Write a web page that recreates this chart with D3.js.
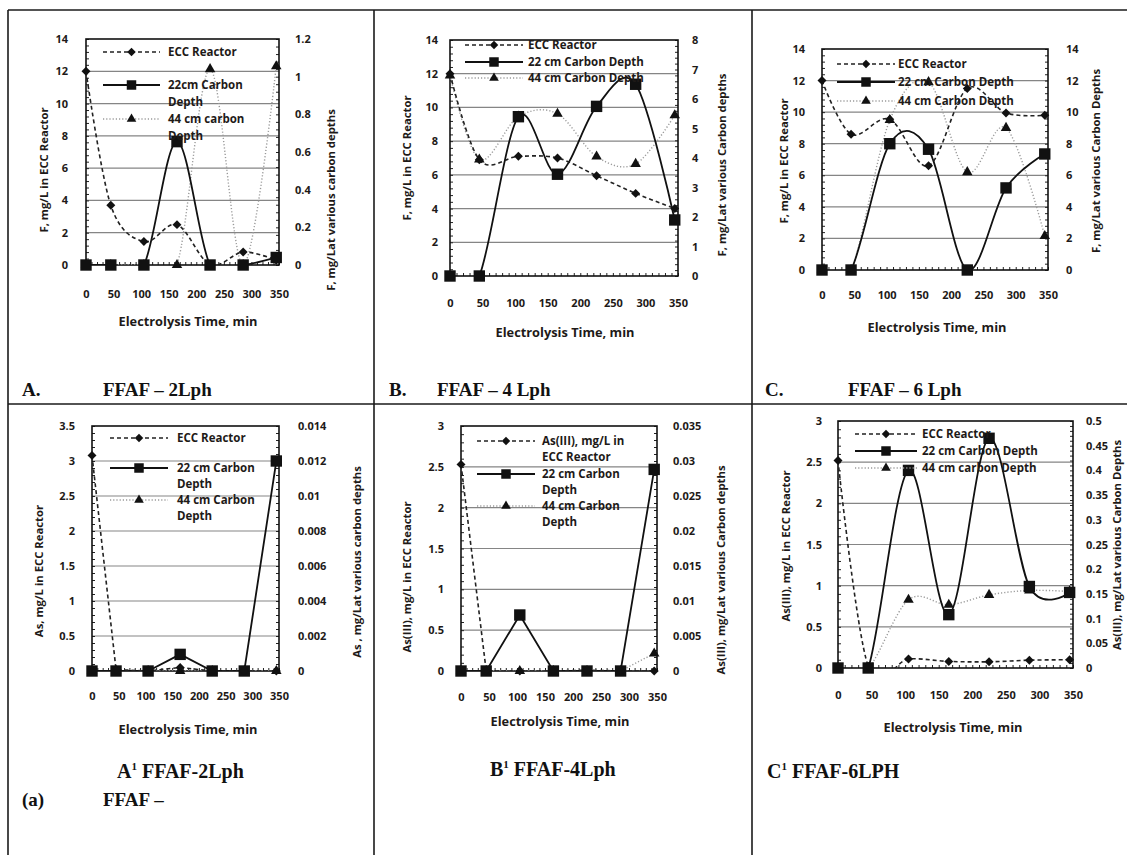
<!DOCTYPE html>
<html>
<head>
<meta charset="utf-8">
<script src="https://cdn.jsdelivr.net/npm/d3@7"></script>
<style>
  body { margin: 0; background: #fff; }
  svg text { font-family: "Open Sans", Lato, sans-serif; font-weight: bold; fill: #1e1a18; }
  svg text.cap { font-family: "Liberation Serif", "DejaVu Serif", serif; fill: #111; }
</style>
</head>
<body>
<svg id="fig" width="1127" height="855"></svg>
<script>
//////////////////// data ////////////////////
const timeMin = [0, 45, 105, 165, 225, 285, 345];
const timeTicks = [0, 50, 100, 150, 200, 250, 300, 350];

// fluoride, mg/L
const fLeftTicks = [0, 2, 4, 6, 8, 10, 12, 14];
const fRightTicks2 = [0, 0.2, 0.4, 0.6, 0.8, 1, 1.2];
const fRightTicks4 = [0, 1, 2, 3, 4, 5, 6, 7, 8];
const fRightTicks6 = [0, 2, 4, 6, 8, 10, 12, 14];

const fEcc2  = [12, 3.7, 1.45, 2.5, 0.02, 0.8, 0.3];
const f22cm2 = [0, 0, 0, 0.655, 0, 0, 0.04];
const f44cm2 = [0, 0, 0, 0, 1.04, 0, 1.055];

const fEcc4  = [12, 6.9, 7.1, 7.0, 5.95, 4.9, 4.0];
const f22cm4 = [0, 0, 5.4, 3.45, 5.75, 6.5, 1.9];
const f44cm4 = [6.8, 3.95, 5.4, 5.5, 4.05, 3.8, 5.45];

const fEcc6  = [12, 8.6, 9.55, 6.6, 11.5, 9.95, 9.8];
const f22cm6 = [0, 0, 8.0, 7.65, 0, 5.2, 7.35];
const f44cm6 = [0, 0, 9.5, 11.9, 6.2, 9.0, 2.15];

// arsenic, mg/L
const asLeftTicks2 = [0, 0.5, 1, 1.5, 2, 2.5, 3, 3.5];
const asRightTicks2 = [0, 0.002, 0.004, 0.006, 0.008, 0.01, 0.012, 0.014];
const asLeftTicks = [0, 0.5, 1, 1.5, 2, 2.5, 3];
const asRightTicks4 = [0, 0.005, 0.01, 0.015, 0.02, 0.025, 0.03, 0.035];
const asRightTicks6 = [0, 0.05, 0.1, 0.15, 0.2, 0.25, 0.3, 0.35, 0.4, 0.45, 0.5];

const asEcc2  = [3.08, 0.02, 0, 0.05, 0, 0, 0];
const as22cm2 = [0, 0, 0, 0.00095, 0, 0, 0.012];
const as44cm2 = [0, 0, 0, 0, 0, 0, 0];

const asEcc4  = [2.53, 0, 0, 0, 0.01, 0, 0];
const as22cm4 = [0, 0, 0.008, 0, 0, 0, 0.0288];
const as44cm4 = [0, 0, 0, 0, 0, 0, 0.0025];

const asEcc6  = [2.52, 0.02, 0.11, 0.08, 0.075, 0.095, 0.1];
const as22cm6 = [0, 0, 0.4, 0.108, 0.465, 0.165, 0.153];
const as44cm6 = [0, 0, 0.138, 0.128, 0.148, 0.157, 0.155];

//////////////////// panels ////////////////////
const smooth = d3.curveCardinal.tension(0);

const panels = [
  { ecc: fEcc2, c22: f22cm2, c44: f44cm2, left: fLeftTicks, right: fRightTicks2, curve: smooth,
    box: {l: 86, r: 279, t: 39, b: 265}, gapL: 18, gapR: 16, xTickY: 298, xTitle: [188, 326],
    yTitleL: ["F, mg/L in ECC Reactor", 45, 170], yTitleR: ["F, mg/Lat various carbon depths", 332, 200],
    legend: {x0: 103, x1: 160, tx: 168, rows: [52, 85, 119], wrap: 17,
             labels: [["ECC Reactor"], ["22cm Carbon", "Depth"], ["44 cm carbon", "Depth"]]} },
  { ecc: fEcc4, c22: f22cm4, c44: f44cm4, left: fLeftTicks, right: fRightTicks4, curve: smooth,
    box: {l: 450, r: 678, t: 40, b: 276}, gapL: 12, gapR: 14, xTickY: 307, xTitle: [565, 337],
    yTitleL: ["F, mg/L in ECC Reactor", 408, 158], yTitleR: ["F, mg/Lat various Carbon depths", 723, 165],
    legend: {x0: 465, x1: 523, tx: 528, rows: [45, 62, 78], wrap: 17,
             labels: [["ECC Reactor"], ["22 cm Carbon Depth"], ["44 cm Carbon Depth"]]} },
  { ecc: fEcc6, c22: f22cm6, c44: f44cm6, left: fLeftTicks, right: fRightTicks6, curve: smooth,
    box: {l: 822, r: 1048, t: 49, b: 270}, gapL: 17, gapR: 18, xTickY: 299, xTitle: [937, 332],
    yTitleL: ["F, mg/L in ECC Reactor", 785, 161], yTitleR: ["F, mg/Lat various Carbon  Depths", 1097, 161],
    legend: {x0: 837, x1: 895, tx: 898, rows: [64, 82, 101], wrap: 17,
             labels: [["ECC Reactor"], ["22 cm Carbon Depth"], ["44 cm Carbon Depth"]]} },
  { ecc: asEcc2, c22: as22cm2, c44: as44cm2, left: asLeftTicks2, right: asRightTicks2, curve: d3.curveLinear,
    box: {l: 92, r: 279, t: 426, b: 671}, gapL: 17, gapR: 19, xTickY: 700, xTitle: [188, 734],
    yTitleL: ["As, mg/L in ECC Reactor", 40, 571], yTitleR: ["As , mg/Lat various carbon depths", 358, 562],
    legend: {x0: 110, x1: 168, tx: 177, rows: [438, 468, 500], wrap: 16,
             labels: [["ECC Reactor"], ["22 cm Carbon", "Depth"], ["44 cm Carbon", "Depth"]]} },
  { ecc: asEcc4, c22: as22cm4, c44: as44cm4, left: asLeftTicks, right: asRightTicks4, curve: d3.curveLinear,
    box: {l: 461, r: 657, t: 426, b: 671}, gapL: 17, gapR: 16, xTickY: 701, xTitle: [560, 726],
    yTitleL: ["As(III), mg/L in ECC Reactor", 408, 577], yTitleR: ["As(III), mg/Lat various Carbon depths", 722, 570],
    legend: {x0: 477, x1: 535, tx: 542, rows: [441, 474, 506], wrap: 16,
             labels: [["As(III), mg/L in", "ECC Reactor"], ["22 cm Carbon", "Depth"], ["44 cm Carbon", "Depth"]]} },
  { ecc: asEcc6, c22: as22cm6, c44: as44cm6, left: asLeftTicks, right: asRightTicks6, curve: smooth,
    box: {l: 838, r: 1073, t: 421, b: 668}, gapL: 16, gapR: 13, xTickY: 699, xTitle: [953, 732],
    yTitleL: ["As(III), mg/L in ECC Reactor", 787, 546], yTitleR: ["As(III), mg/Lat various Carbon Depths", 1118, 545],
    legend: {x0: 855, x1: 917, tx: 922, rows: [434, 451, 468], wrap: 17,
             labels: [["ECC Reactor"], ["22 cm Carbon Depth"], ["44 cm carbon Depth"]]} }
];

// series look: ECC on the left axis, the two carbon depths on the right one
const seriesLook = [
  {key: "c44", axis: "R", dash: "1.2,2", stroke: "#9a9a9a", width: 1.4, marker: "triangle"},
  {key: "c22", axis: "R", dash: null, stroke: "#111", width: 1.8, marker: "square"},
  {key: "ecc", axis: "L", dash: "4,3", stroke: "#222", width: 1.6, marker: "diamond"}
];
const legendOrder = ["ecc", "c22", "c44"];

const svg = d3.select("#fig");

function markerPath(type, big) {
  if (type === "square") return d3.symbol(d3.symbolSquare, big ? 130 : 90)();
  if (type === "triangle") return d3.symbol(d3.symbolTriangle, big ? 48 : 40)();
  return d3.symbol(d3.symbolSquare, big ? 40 : 36)();
}
function markerRot(type) { return type === "diamond" ? " rotate(45)" : ""; }

function drawPanel(p, idx) {
  const g = svg.append("g").attr("class", "panel" + idx);
  const b = p.box;
  const x = d3.scaleLinear().domain([0, 350]).range([b.l, b.r]);
  const yL = d3.scaleLinear().domain([0, d3.max(p.left)]).range([b.b, b.t]);
  const yR = d3.scaleLinear().domain([0, d3.max(p.right)]).range([b.b, b.t]);

  // gridlines
  g.append("g").selectAll("line").data(p.left.slice(1, -1)).join("line")
    .attr("x1", b.l).attr("x2", b.r).attr("y1", d => yL(d)).attr("y2", d => yL(d))
    .attr("stroke", "#858585").attr("stroke-width", 1.2);

  // minor ticks, inside
  const minorX = d3.range(0, 351, 10);
  g.append("g").attr("transform", `translate(0,${b.b})`)
    .call(d3.axisTop(x).tickValues(minorX).tickSize(3).tickFormat(""))
    .call(a => a.select(".domain").remove());
  const stepL = p.left[1] / 5, stepR = p.right[1] / 5;
  g.append("g").attr("transform", `translate(${b.l},0)`)
    .call(d3.axisRight(yL).tickValues(d3.range(0, d3.max(p.left) + 1e-9, stepL)).tickSize(3).tickFormat(""))
    .call(a => a.select(".domain").remove());
  g.append("g").attr("transform", `translate(${b.r},0)`)
    .call(d3.axisLeft(yR).tickValues(d3.range(0, d3.max(p.right) + 1e-12, stepR)).tickSize(3).tickFormat(""))
    .call(a => a.select(".domain").remove());
  g.selectAll(".tick line").attr("stroke", "#222").attr("stroke-width", 1);

  // plot frame
  g.append("rect").attr("x", b.l).attr("y", b.t).attr("width", b.r - b.l).attr("height", b.b - b.t)
    .attr("fill", "none").attr("stroke", "#111").attr("stroke-width", 1.6);

  // tick labels
  const axL = g.append("g").attr("transform", `translate(${b.l},0)`)
    .call(d3.axisLeft(yL).tickValues(p.left).tickFormat(String).tickSize(0).tickPadding(p.gapL));
  const axR = g.append("g").attr("transform", `translate(${b.r},0)`)
    .call(d3.axisRight(yR).tickValues(p.right).tickFormat(String).tickSize(0).tickPadding(p.gapR));
  const axX = g.append("g").attr("transform", `translate(0,${b.b})`)
    .call(d3.axisBottom(x).tickValues(timeTicks).tickFormat(String).tickSize(0).tickPadding(p.xTickY - b.b - 8));
  [axL, axR, axX].forEach(a => {
    a.select(".domain").remove();
    a.selectAll("text").attr("font-size", 11).attr("fill", "#1e1a18")
      .attr("font-family", "'Open Sans', Lato, sans-serif").attr("font-weight", "bold");
  });

  // axis titles
  g.append("text").attr("x", p.xTitle[0]).attr("y", p.xTitle[1]).attr("text-anchor", "middle")
    .attr("font-size", 12.8).text("Electrolysis Time, min");
  g.append("text").attr("transform", `translate(${p.yTitleL[1]},${p.yTitleL[2]}) rotate(-90)`)
    .attr("text-anchor", "middle").attr("dominant-baseline", "middle").attr("font-size", 11.3)
    .attr("fill", "#3a2418").text(p.yTitleL[0]);
  g.append("text").attr("transform", `translate(${p.yTitleR[1]},${p.yTitleR[2]}) rotate(-90)`)
    .attr("text-anchor", "middle").attr("dominant-baseline", "middle").attr("font-size", 11.3)
    .attr("fill", "#3a2418").text(p.yTitleR[0]);

  // series
  const clipId = "clip" + idx;
  g.append("clipPath").attr("id", clipId).append("rect")
    .attr("x", b.l).attr("y", b.t - 2).attr("width", b.r - b.l).attr("height", b.b - b.t + 2);
  const lines = g.append("g").attr("clip-path", `url(#${clipId})`);
  const marks = g.append("g");
  seriesLook.forEach(s => {
    const vals = p[s.key];
    const y = s.axis === "L" ? yL : yR;
    const pts = timeMin.map((t, i) => [x(t), y(vals[i])]);
    lines.append("path").attr("d", d3.line().curve(p.curve)(pts))
      .attr("fill", "none").attr("stroke", s.stroke).attr("stroke-width", s.width)
      .attr("stroke-dasharray", s.dash);
  });
  seriesLook.forEach(s => {
    const vals = p[s.key];
    const y = s.axis === "L" ? yL : yR;
    marks.selectAll(null).data(timeMin).join("path")
      .attr("d", markerPath(s.marker, true))
      .attr("transform", (t, i) => `translate(${x(t)},${y(vals[i])})${markerRot(s.marker)}`)
      .attr("fill", "#111");
  });

  // legend
  const L = p.legend;
  legendOrder.forEach((key, i) => {
    const s = seriesLook.find(d => d.key === key);
    const yy = L.rows[i];
    g.append("line").attr("x1", L.x0).attr("x2", L.x1).attr("y1", yy).attr("y2", yy)
      .attr("stroke", s.stroke).attr("stroke-width", s.width).attr("stroke-dasharray", s.dash);
    g.append("path").attr("d", markerPath(s.marker, false))
      .attr("transform", `translate(${(L.x0 + L.x1) / 2},${yy})${markerRot(s.marker)}`).attr("fill", "#111");
    L.labels[i].forEach((t, j) => {
      g.append("text").attr("x", L.tx).attr("y", yy + j * L.wrap).attr("dy", "0.35em")
        .attr("font-size", 11.5).text(t);
    });
  });
}

panels.forEach(drawPanel);

//////////////////// table frame and captions ////////////////////
const frame = svg.append("g").attr("stroke", "#1a1a1a").attr("stroke-width", 1.6);
[[8, 10, 1127, 10], [8, 404, 1127, 404], [8, 10, 8, 855], [374, 10, 374, 855], [752, 10, 752, 855]]
  .forEach(c => frame.append("line").attr("x1", c[0]).attr("y1", c[1]).attr("x2", c[2]).attr("y2", c[3]));

const captions = [
  ["A.", 22, 396], ["FFAF – 2Lph", 103, 396],
  ["B.", 389, 396], ["FFAF – 4 Lph", 437, 396],
  ["C.", 765, 396], ["FFAF – 6 Lph", 848, 396],
  ["(a)", 22, 806], ["FFAF –", 103, 806]
];
captions.forEach(c => svg.append("text").attr("class", "cap").attr("x", c[1]).attr("y", c[2])
  .attr("font-size", 19).text(c[0]));

const subCaptions = [["A", " FFAF-2Lph", 117, 778], ["B", " FFAF-4Lph", 490, 776], ["C", " FFAF-6LPH", 767, 778]];
subCaptions.forEach(c => {
  const t = svg.append("text").attr("class", "cap").attr("x", c[2]).attr("y", c[3]).attr("font-size", 20);
  t.append("tspan").text(c[0]);
  t.append("tspan").attr("dy", -8).attr("font-size", 11).text("1");
  t.append("tspan").attr("dy", 8).text(c[1]);
});
</script>
</body>
</html>
